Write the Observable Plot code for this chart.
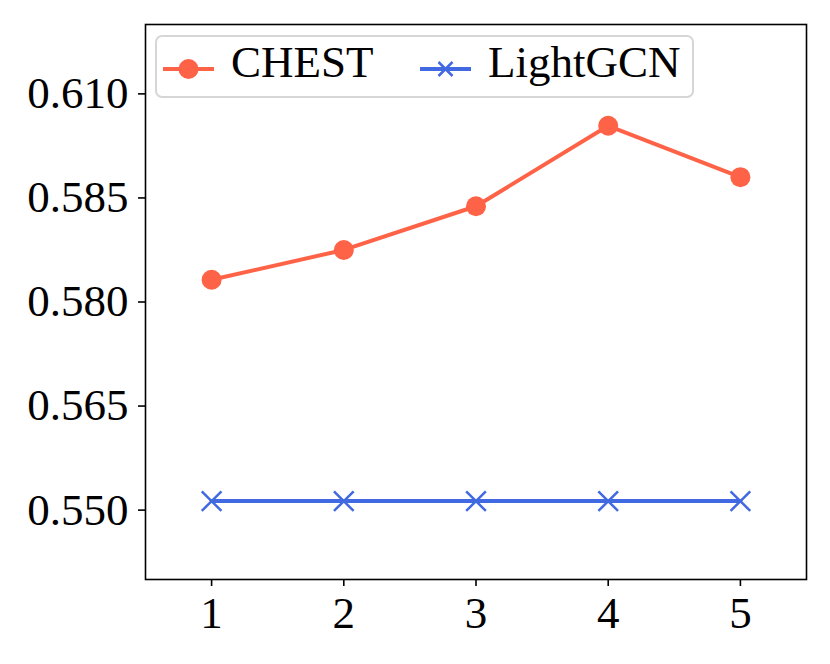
<!DOCTYPE html>
<html>
<head>
<meta charset="utf-8">
<script src="https://cdn.jsdelivr.net/npm/d3@7"></script>
<script src="https://cdn.jsdelivr.net/npm/@observablehq/plot@0.6"></script>
<style>
  html, body { margin: 0; padding: 0; background: #fff; }
  #wrap { position: relative; width: 830px; height: 664px; }
  #legend { position: absolute; left: 0; top: 0; pointer-events: none; }
</style>
</head>
<body>
<div id="wrap"></div>
<script>
// ---- data ----
const xValues = [1, 2, 3, 4, 5];
const chestValues = [0.5832, 0.5875, 0.5938, 0.6054, 0.5980];
const lightgcnValues = [0.5513, 0.5513, 0.5513, 0.5513, 0.5513];
const seriesNames = ["CHEST", "LightGCN"];
const seriesColors = ["#ff6347", "#4169e1"];
const xTicks = [1, 2, 3, 4, 5];
const yTicks = [0.550, 0.565, 0.580, 0.595, 0.610];
const yTickLabels = ["0.550", "0.565", "0.580", "0.585", "0.610"];

const chest = xValues.map((x, i) => ({x, y: chestValues[i]}));
const lightgcn = xValues.map((x, i) => ({x, y: lightgcnValues[i]}));

const FONT = "Liberation Serif, Times New Roman, serif";

const chart = Plot.plot({
  width: 830,
  height: 664,
  marginLeft: 145,
  marginRight: 24,
  marginTop: 24,
  marginBottom: 85,
  style: {fontFamily: FONT, fontSize: "45px", background: "#fff", color: "#000"},
  x: {domain: [0.5, 5.5]},
  y: {domain: [0.540, 0.620]},
  marks: [
    Plot.axisX({ticks: xTicks, tickSize: 7, tickPadding: 10, strokeWidth: 1.6, label: null, fontSize: 45, tickFormat: d => String(d)}),
    Plot.axisY({ticks: yTicks, tickSize: 7, tickPadding: 10, strokeWidth: 1.6, label: null, fontSize: 45,
      tickFormat: d => yTickLabels[yTicks.findIndex(t => Math.abs(t - d) < 1e-9)]}),
    Plot.line(chest, {x: "x", y: "y", stroke: seriesColors[0], strokeWidth: 4}),
    Plot.dot(chest, {x: "x", y: "y", r: 10, fill: seriesColors[0], stroke: "none"}),
    Plot.line(lightgcn, {x: "x", y: "y", stroke: seriesColors[1], strokeWidth: 4}),
    Plot.dot(lightgcn, {x: "x", y: "y", symbol: "times", r: 9, stroke: seriesColors[1], strokeWidth: 2.5}),
    Plot.frame({stroke: "#000", strokeWidth: 1.6})
  ]
});

const wrap = document.getElementById("wrap");
wrap.appendChild(chart);

// ---- legend (overlay inside the axes, top-left) ----
const lg = d3.select(wrap).append("svg")
  .attr("id", "legend").attr("width", 830).attr("height", 664);
lg.append("rect")
  .attr("x", 156).attr("y", 36).attr("width", 537).attr("height", 61)
  .attr("rx", 6).attr("fill", "#fff").attr("fill-opacity", 0.8)
  .attr("stroke", "#d6d6d6").attr("stroke-width", 2);

const entries = [
  {name: seriesNames[0], color: seriesColors[0], marker: "circle", x0: 163},
  {name: seriesNames[1], color: seriesColors[1], marker: "times", x0: 420}
];
const cy = 69;
entries.forEach(e => {
  const g = lg.append("g");
  g.append("line").attr("x1", e.x0).attr("x2", e.x0 + 51).attr("y1", cy).attr("y2", cy)
    .attr("stroke", e.color).attr("stroke-width", 4);
  const mx = e.x0 + 25.5;
  if (e.marker === "circle") {
    g.append("circle").attr("cx", mx).attr("cy", cy).attr("r", 10).attr("fill", e.color);
  } else {
    const s = 7;
    g.append("path").attr("d", `M${mx - s},${cy - s}L${mx + s},${cy + s}M${mx - s},${cy + s}L${mx + s},${cy - s}`)
      .attr("stroke", e.color).attr("stroke-width", 2.5).attr("fill", "none");
  }
  g.append("text").attr("x", e.x0 + 68).attr("y", 77)
    .attr("font-family", FONT).attr("font-size", 45).attr("fill", "#000")
    .text(e.name);
});
</script>
</body>
</html>
